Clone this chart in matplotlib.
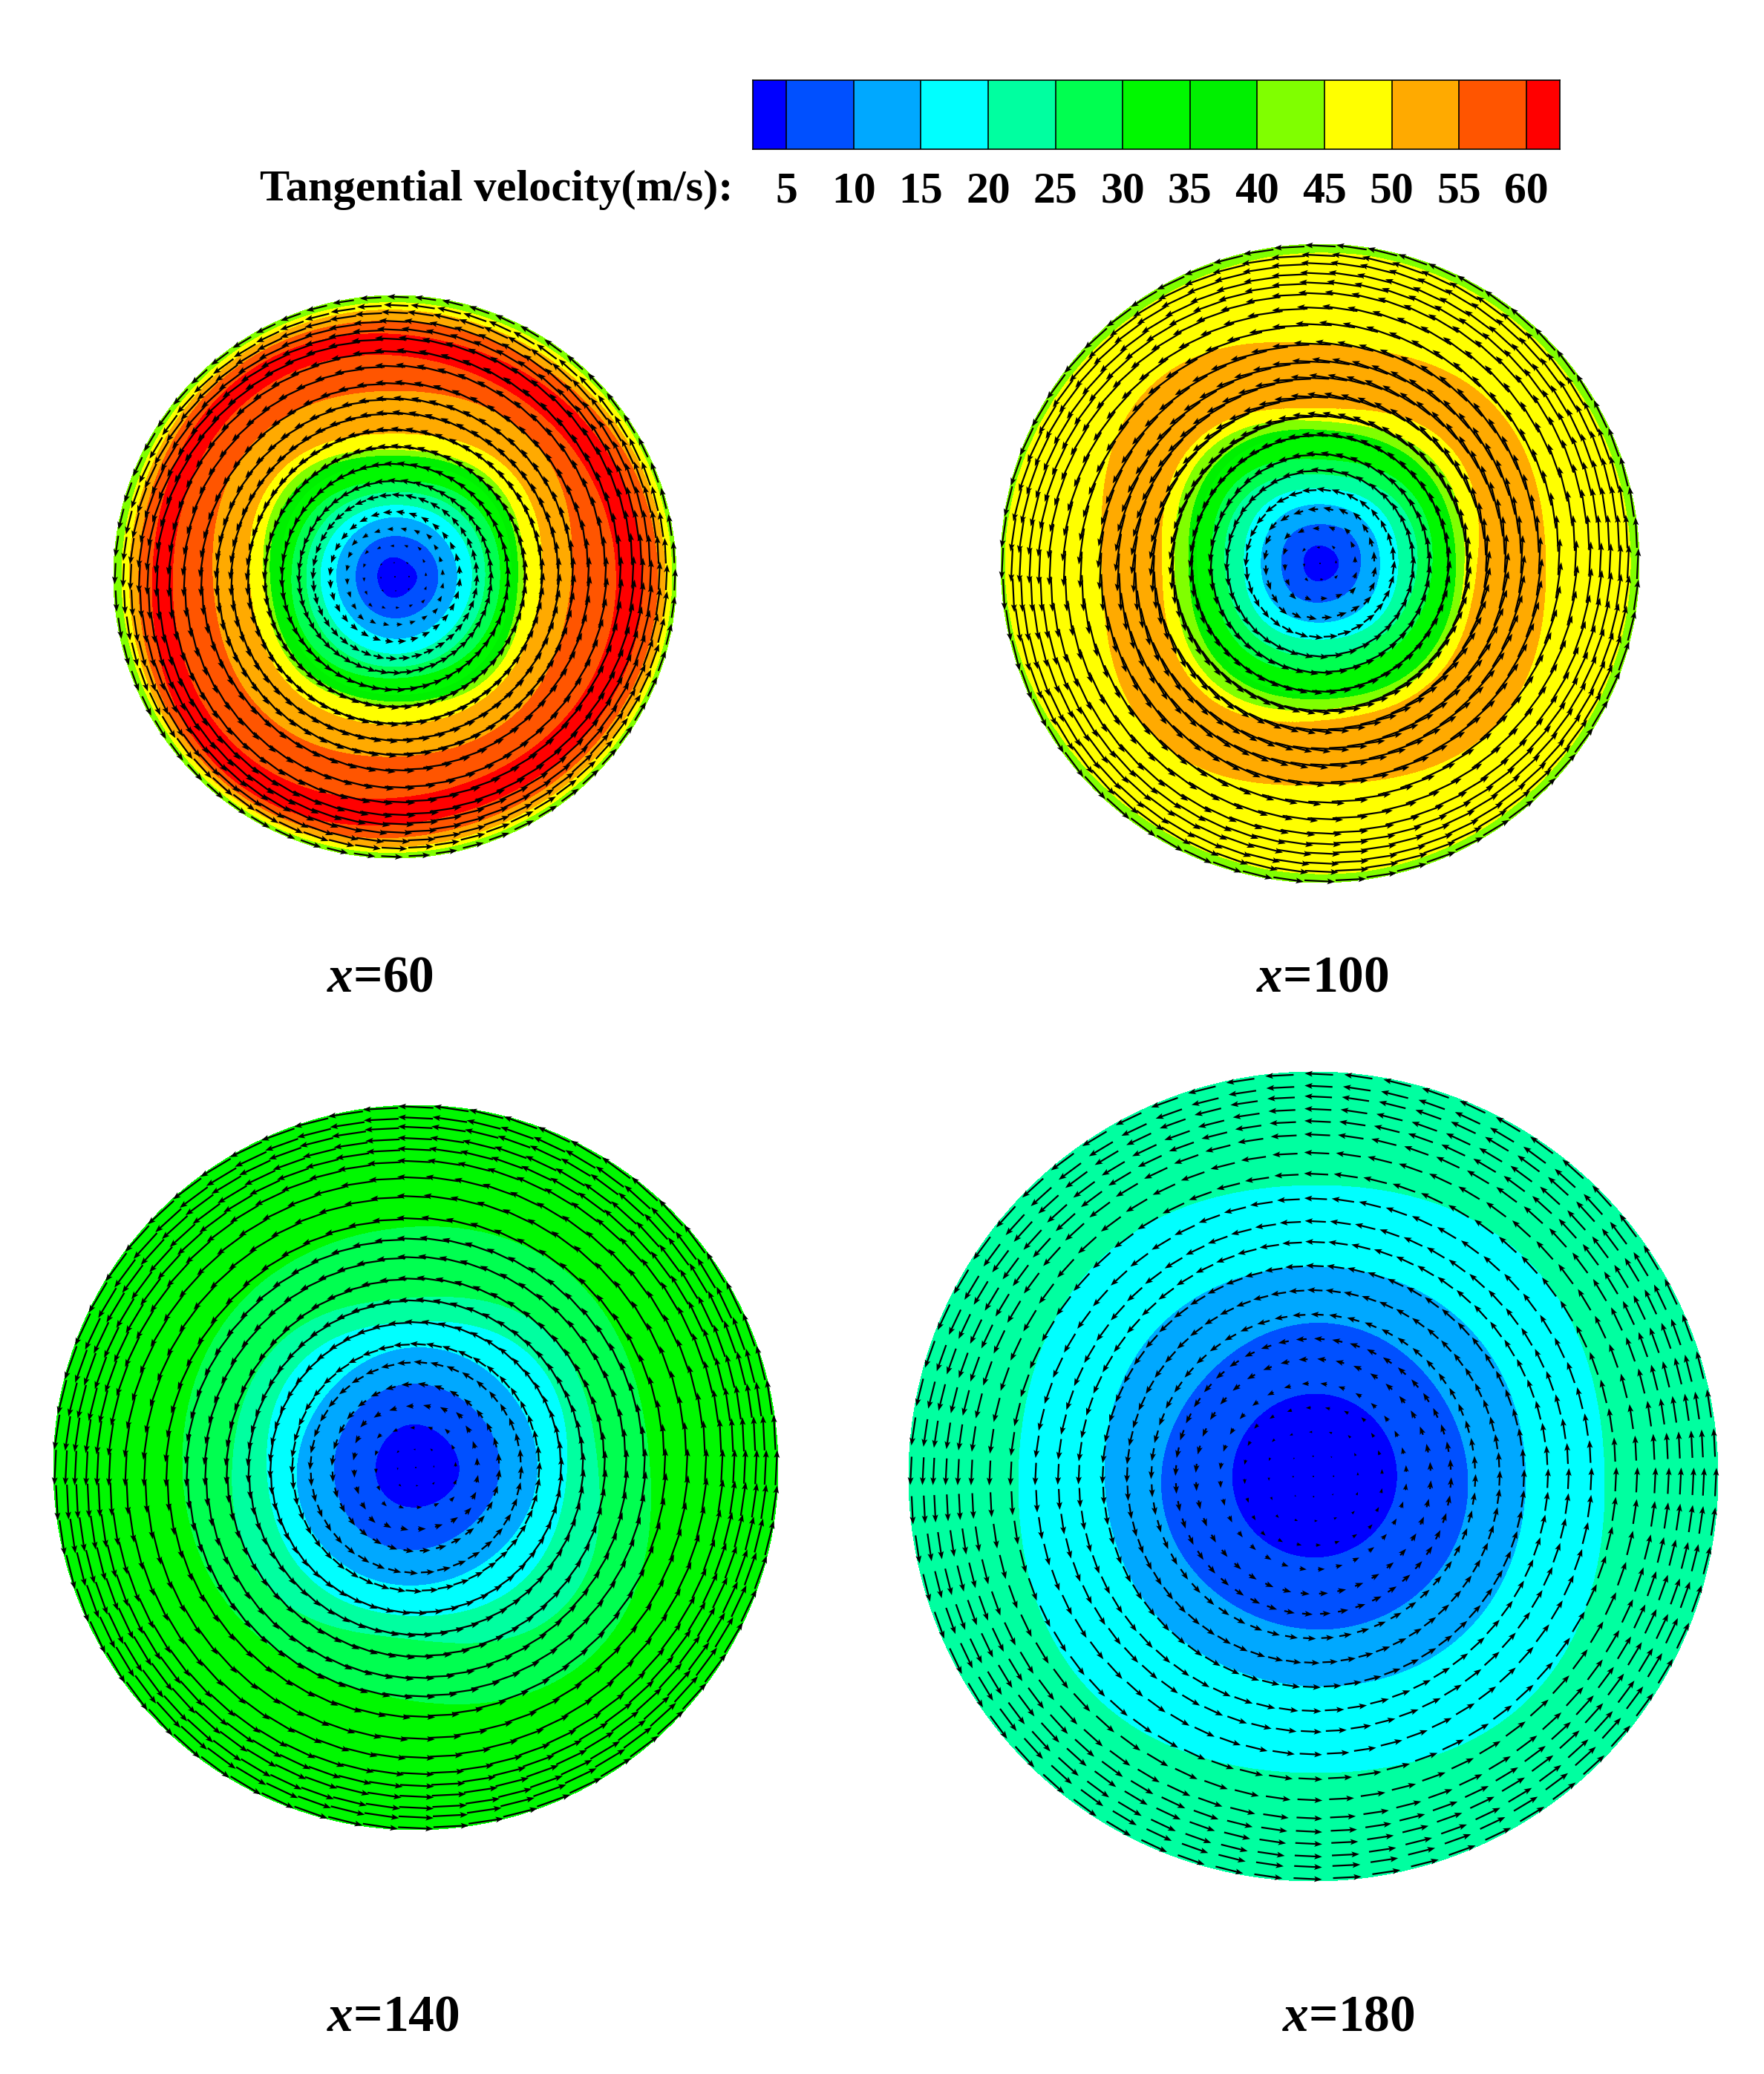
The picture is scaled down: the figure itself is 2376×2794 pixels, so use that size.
#!/usr/bin/env python3
import numpy as np
from matplotlib import pyplot as plt

plt.rcParams['font.family'] = ['Liberation Serif', 'DejaVu Serif']
plt.rcParams['mathtext.fontset'] = 'custom'
plt.rcParams['mathtext.bfit'] = 'Liberation Serif:italic:bold'
plt.rcParams['mathtext.rm'] = 'Liberation Serif:bold'

# colour bands, one per interval of the legend
levels = [5, 10, 15, 20, 25, 30, 35, 40, 45, 50, 55, 60]
legend_ends = [2.5, 62.5]
band_colors = ['#0000ff', '#0050ff', '#00a8ff', '#00ffff', '#00ffa0', '#00ff50', '#00f800',
               '#00f000', '#80ff00', '#ffff00', '#ffaa00', '#ff5500', '#ff0000']

# radius where each velocity is reached, read along E NE N NW W SW S SE
# radii are in units where the wall of the section is at edge_*
edge_60 = 752
vel_60 = [0, 5, 10, 15, 20, 25, 30, 35, 40, 45, 50, 55, 60, 63, 60, 55, 50, 45, 40]
rad_60 = [[0, 0, 0, 0, 0, 0, 0, 0],
          [60, 52, 53, 52, 48, 52, 57, 55],
          [117, 115, 110, 110, 106, 110, 112, 115],
          [167, 165, 160, 160, 158, 160, 167, 167],
          [207, 205, 193, 200, 200, 205, 207, 207],
          [242, 245, 228, 240, 238, 245, 242, 245],
          [282, 285, 258, 280, 278, 290, 272, 285],
          [312, 329, 303, 326, 305, 320, 317, 328],
          [330, 350, 325, 355, 335, 345, 335, 350],
          [345, 368, 340, 378, 352, 362, 345, 368],
          [392, 418, 383, 417, 390, 405, 397, 403],
          [472, 520, 498, 523, 488, 505, 482, 488],
          [592, 585, 593, 615, 595, 622, 592, 590],
          [627, 618, 620, 643, 622, 657, 627, 625],
          [662, 651, 648, 672, 648, 692, 662, 660],
          [702, 690, 683, 700, 685, 712, 697, 695],
          [722, 715, 713, 720, 710, 728, 722, 720],
          [740, 738, 733, 738, 730, 740, 737, 738],
          [752, 752, 752, 752, 752, 752, 752, 752]]

edge_100 = 750
vel_100 = [0, 5, 10, 15, 20, 25, 30, 35, 40, 45, 50, 52, 50, 45, 40]
rad_100 = [[0, 0, 0, 0, 0, 0, 0, 0],
           [45, 43, 43, 43, 40, 43, 43, 43],
           [97, 100, 93, 97, 92, 97, 93, 95],
           [142, 145, 140, 145, 140, 145, 140, 145],
           [185, 190, 177, 190, 180, 190, 180, 190],
           [230, 230, 210, 235, 225, 230, 220, 225],
           [265, 270, 245, 275, 255, 270, 255, 265],
           [305, 310, 300, 320, 290, 315, 310, 310],
           [320, 330, 315, 340, 310, 335, 320, 335],
           [340, 360, 335, 375, 343, 375, 345, 355],
           [370, 410, 365, 410, 372, 410, 370, 382],
           [450, 480, 440, 490, 440, 485, 445, 470],
           [530, 550, 515, 575, 512, 562, 520, 560],
           [730, 730, 730, 730, 740, 730, 730, 730],
           [750, 750, 750, 750, 750, 750, 750, 750]]

edge_140 = 766
vel_140 = [0, 5, 10, 15, 20, 25, 30, 34]
rad_140 = [[0, 0, 0, 0, 0, 0, 0, 0],
           [93, 88, 92, 88, 86, 88, 85, 88],
           [178, 175, 178, 175, 174, 178, 175, 170],
           [258, 255, 255, 245, 252, 258, 250, 250],
           [321, 340, 310, 330, 316, 325, 315, 330],
           [386, 400, 360, 390, 389, 400, 365, 430],
           [496, 520, 510, 510, 494, 490, 495, 545],
           [766, 766, 766, 766, 766, 766, 766, 766]]

edge_180 = 770
vel_180 = [0, 5, 10, 15, 20, 24]
rad_180 = [[0, 0, 0, 0, 0, 0, 0, 0],
           [160, 160, 158, 155, 155, 155, 155, 158],
           [295, 290, 293, 280, 290, 290, 292, 300],
           [405, 410, 400, 410, 398, 400, 400, 415],
           [555, 580, 555, 580, 562, 590, 565, 590],
           [770, 770, 770, 770, 770, 770, 770, 770]]

# rings of the measuring grid, fraction of the wall radius, inner to outer
inner_rings = [.05, .11, .17, .23, .29, .34, .40, .46]
outer_rings = [.52, .579, .63, .686, .747, .799, .844, .877, .907, .938, .964, .994]
grid_spokes = 64

panel_names = ['60', '100', '140', '180']
panel_vel = [vel_60, vel_100, vel_140, vel_180]
panel_rad = [rad_60, rad_100, rad_140, rad_180]
panel_edge = [edge_60, edge_100, edge_140, edge_180]
panel_centre = [(532, 777), (1778, 759), (560, 1977), (1769, 1989)]
panel_radius = [379, 430, 488, 545]
panel_label = [(512, 1318), (1781, 1318), (529, 2719), (1816, 2719)]
arrow_k = [0.7, 1.0, 1.4, 1.6]  # px per m/s

N_TH = grid_spokes * 12
N_R = 500


def fine_radii(row):
    # periodic resample of the 8 readings round the section
    c = np.fft.rfft(row)
    c[-1] *= 0.5
    return np.fft.irfft(c, n=N_TH) * N_TH / len(row)


def section_field(vel, rad, edge):
    rows = np.array([fine_radii(np.array(r, dtype=float)) for r in rad]) / edge
    rows = np.maximum.accumulate(rows, axis=0)
    fr = np.linspace(0, 1, N_R)
    return np.array([np.interp(fr, rows[:, j], vel) for j in range(N_TH)])


def grid_points():
    # O-grid: square lattice at the very core, round rings further out
    px, py = [0.0], [0.0]
    off = np.pi / grid_spokes
    for k, r in enumerate(inner_rings, 1):
        t = 2 * np.pi * np.arange(8 * k) / (8 * k)
        side = np.floor((t + np.pi / 4) / (np.pi / 2))
        phi = side * np.pi / 2
        w = (t - phi) / (np.pi / 4)
        a = min(1, k / 4)
        px.extend(r * ((1 - a) * (np.cos(phi) - w * np.sin(phi)) + a * np.cos(t + off)))
        py.extend(r * ((1 - a) * (np.sin(phi) + w * np.cos(phi)) + a * np.sin(t + off)))
    t = 2 * np.pi * np.arange(grid_spokes) / grid_spokes + off
    for r in outer_rings:
        px.extend(r * np.cos(t))
        py.extend(r * np.sin(t))
    return np.array(px), np.array(py)


fig = plt.figure(figsize=(23.76, 27.94), dpi=100)
ax = fig.add_axes([0, 0, 1, 1])
ax.set_xlim(0, 2376)
ax.set_ylim(2794, 0)
ax.axis('off')

bounds = [-1] + levels + [100]
theta = np.linspace(0, 2 * np.pi, N_TH, endpoint=False)
gx, gy = grid_points()
for i in range(4):
    cx, cy = panel_centre[i]
    R = panel_radius[i]
    V = section_field(panel_vel[i], panel_rad[i], panel_edge[i])
    # close the mesh round the circle
    th = np.append(theta, 2 * np.pi)
    Vc = np.vstack([V, V[:1]])
    T, F = np.meshgrid(th, np.linspace(0, 1, N_R), indexing='ij')
    ax.contourf(cx + R * F * np.cos(T), cy - R * F * np.sin(T), Vc, levels=bounds, colors=band_colors)

    # tangential arrows on the grid points
    gr = np.hypot(gx, gy)
    gt = np.arctan2(gy, gx) % (2 * np.pi)
    it = np.round(gt / (2 * np.pi) * N_TH).astype(int) % N_TH
    ir = np.round(gr * (N_R - 1)).astype(int)
    Vg = V[it, ir]
    ax.quiver(cx + R * gx, cy - R * gy,
              -arrow_k[i] * Vg * np.sin(gt), -arrow_k[i] * Vg * np.cos(gt),
              angles='xy', scale_units='xy', scale=1, units='xy', width=2.2,
              headwidth=3.6, headlength=4.8, headaxislength=4, color='black', zorder=3)

    ax.text(panel_label[i][0], panel_label[i][1], r'$\mathbfit{x}$=' + panel_names[i],
            fontsize=50, fontweight='bold', ha='center', va='center')

# legend bar
cax = fig.add_axes([1014 / 2376, 1 - 201 / 2794, (2101 - 1014) / 2376, 93 / 2794])
edges = [legend_ends[0]] + levels + [legend_ends[1]]
for k in range(len(edges) - 1):
    cax.axvspan(edges[k], edges[k + 1], color=band_colors[k], lw=0)
cax.vlines(levels, 0, 1, color='black', lw=1.2)
cax.set_xlim(legend_ends)
cax.set_ylim(0, 1)
cax.set_yticks([])
cax.set_xticks(levels)
cax.set_xticklabels([str(v) for v in levels], fontsize=43, fontweight='bold')
cax.tick_params(axis='x', length=0, pad=22)
for s in cax.spines.values():
    s.set_linewidth(1.2)

ax.text(350, 256, 'Tangential velocity(m/s):', fontsize=43.5, fontweight='bold', ha='left', va='center')

fig.savefig('out.png', dpi=100)
